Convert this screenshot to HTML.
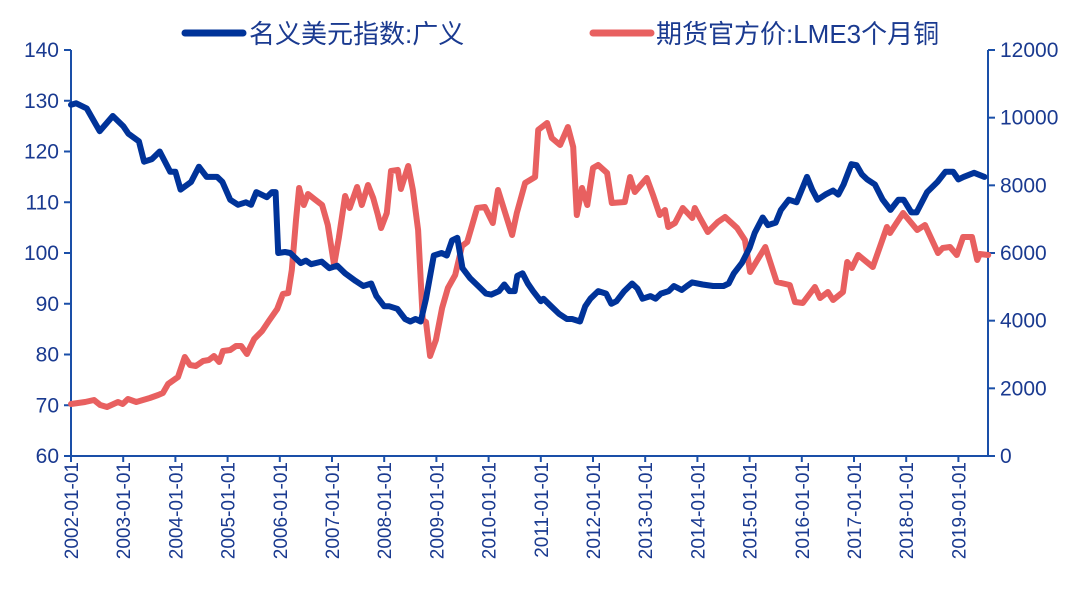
<!DOCTYPE html>
<html><head><meta charset="utf-8"><style>
body{margin:0;background:#fff;}
svg{display:block;font-family:"Liberation Sans","Noto Sans CJK SC",sans-serif;}
</style></head><body>
<svg id="c" width="1086" height="606"></svg>
<script>
const usdDates=[2002.0,2002.1,2002.3,2002.55,2002.8,2003.0,2003.1,2003.3,2003.4,2003.55,2003.7,2003.9,2004.0,2004.1,2004.3,2004.45,2004.6,2004.8,2004.9,2005.05,2005.2,2005.35,2005.45,2005.55,2005.75,2005.85,2005.92,2005.97,2006.1,2006.2,2006.4,2006.5,2006.6,2006.8,2006.95,2007.1,2007.25,2007.45,2007.6,2007.75,2007.85,2008.0,2008.1,2008.25,2008.4,2008.5,2008.6,2008.7,2008.8,2008.95,2009.1,2009.2,2009.3,2009.4,2009.5,2009.65,2009.8,2009.95,2010.05,2010.2,2010.3,2010.4,2010.5,2010.55,2010.65,2010.75,2010.85,2011.0,2011.05,2011.2,2011.35,2011.5,2011.6,2011.75,2011.85,2011.95,2012.1,2012.25,2012.35,2012.45,2012.6,2012.75,2012.85,2012.95,2013.1,2013.2,2013.3,2013.45,2013.55,2013.7,2013.8,2013.9,2014.1,2014.3,2014.5,2014.6,2014.7,2014.85,2015.0,2015.1,2015.25,2015.35,2015.5,2015.6,2015.75,2015.9,2016.0,2016.1,2016.2,2016.3,2016.45,2016.6,2016.7,2016.8,2016.95,2017.05,2017.15,2017.25,2017.4,2017.55,2017.7,2017.85,2017.95,2018.1,2018.2,2018.4,2018.5,2018.6,2018.75,2018.9,2019.0,2019.1,2019.3,2019.5,2019.65];
const usdValues=[129.2,129.5,128.5,124,127,125,123.5,122,118,118.5,120,116,116,112.5,114,117,115,115,114,110.5,109.5,110,109.5,112,111,112,112,100,100.2,100,98,98.5,97.8,98.3,97.0,97.5,96,94.5,93.5,94,91.5,89.5,89.5,89,87,86.5,87,86.5,91,99.5,100,99.5,102.5,103,97,95,93.5,92,91.8,92.5,93.8,92.5,92.5,95.5,96,94,92.5,90.5,91,89.5,88,87,87,86.5,89.5,91,92.5,92,90,90.5,92.5,94,93,91,91.5,91.0,92,92.5,93.5,92.7,93.5,94.2,93.8,93.5,93.5,94,96,98,101,104,107,105.5,106,108.5,110.5,110,112.5,115,112.5,110.5,111.5,112.3,111.5,113.5,117.5,117.3,115.5,114.5,113.5,110.5,108.5,110.5,110.5,108,108,112,113,114,116,116,114.5,115,115.8,115];
const cuDates=[2002.00,2002.27,2002.44,2002.56,2002.69,2002.90,2002.99,2003.09,2003.25,2003.38,2003.51,2003.67,2003.76,2003.86,2004.05,2004.18,2004.28,2004.39,2004.53,2004.64,2004.74,2004.84,2004.91,2005.05,2005.16,2005.26,2005.37,2005.51,2005.66,2005.79,2005.95,2006.06,2006.16,2006.23,2006.31,2006.37,2006.46,2006.54,2006.66,2006.81,2006.92,2007.04,2007.13,2007.25,2007.34,2007.48,2007.57,2007.69,2007.79,2007.88,2007.94,2008.05,2008.13,2008.26,2008.32,2008.46,2008.55,2008.65,2008.74,2008.80,2008.88,2008.99,2009.11,2009.22,2009.36,2009.49,2009.59,2009.68,2009.78,2009.93,2010.08,2010.18,2010.45,2010.54,2010.70,2010.89,2010.95,2011.12,2011.21,2011.37,2011.52,2011.62,2011.69,2011.79,2011.89,2012.00,2012.10,2012.27,2012.36,2012.61,2012.71,2012.80,2013.03,2013.15,2013.28,2013.38,2013.44,2013.57,2013.72,2013.90,2013.95,2014.05,2014.20,2014.39,2014.53,2014.76,2014.91,2015.01,2015.30,2015.52,2015.77,2015.87,2016.02,2016.25,2016.35,2016.50,2016.60,2016.79,2016.87,2016.96,2017.08,2017.36,2017.63,2017.69,2017.79,2017.94,2018.21,2018.36,2018.61,2018.70,2018.84,2018.97,2019.09,2019.26,2019.36,2019.41,2019.57];
const cuValues=[1537,1596,1655,1508,1448,1596,1537,1685,1596,1655,1714,1803,1862,2128,2335,2926,2690,2660,2808,2838,2956,2779,3104,3133,3252,3252,3015,3459,3695,3991,4345,4789,4818,5498,6976,7922,7420,7745,7597,7420,6828,5646,6444,7686,7331,7952,7420,8011,7626,7124,6740,7183,8425,8455,7893,8572,7863,6681,4020,3961,2956,3429,4375,4966,5350,6208,6326,6799,7331,7360,6887,7863,6533,7183,8070,8247,9637,9843,9400,9193,9725,9134,7124,7922,7420,8513,8602,8365,7479,7508,8247,7804,8218,7715,7124,7272,6769,6887,7331,7035,7331,7035,6621,6917,7065,6740,6385,5439,6178,5143,5055,4552,4523,4996,4670,4848,4611,4848,5735,5557,5942,5587,6769,6592,6828,7183,6681,6828,6001,6148,6178,5942,6474,6474,5794,5971,5942];
const leftTicks=[60,70,80,90,100,110,120,130,140];
const rightTicks=[0,2000,4000,6000,8000,10000,12000];
const xTickYears=[2002,2003,2004,2005,2006,2007,2008,2009,2010,2011,2012,2013,2014,2015,2016,2017,2018,2019];

const NS="http://www.w3.org/2000/svg";
const svg=document.getElementById('c');
const X0=71,X1=988,Y0=50,Y1=456;
const xs=y=>X0+(y-2002)*52.2;
const yl=v=>Y1-(v-60)/80*(Y1-Y0);
const yr=v=>Y1-v/12000*(Y1-Y0);
const AX="#1a4fa8", TX="#1a3a90";
function el(t,a,p){const e=document.createElementNS(NS,t);for(const k in a)e.setAttribute(k,a[k]);(p||svg).appendChild(e);return e;}

let a=el('line',{x1:X0,y1:Y0,x2:X0,y2:Y1,stroke:AX,'stroke-width':2});


a=el('line',{x1:X1,y1:Y0,x2:X1,y2:Y1,stroke:AX,'stroke-width':2});


a=el('line',{x1:X0,y1:Y1,x2:X1,y2:Y1,stroke:AX,'stroke-width':2});



leftTicks.forEach(v=>{
  const y=yl(v);
  el('line',{x1:X0-7,y1:y,x2:X0,y2:y,stroke:AX,'stroke-width':2});
  const t=el('text',{x:X0-12,y:y+7,'text-anchor':'end','font-size':21,fill:TX});
  t.textContent=v;
  
  
});
rightTicks.forEach(v=>{
  const y=yr(v);
  el('line',{x1:X1,y1:y,x2:X1+7,y2:y,stroke:AX,'stroke-width':2});
  const t=el('text',{x:X1+12,y:y+7,'text-anchor':'start','font-size':21,fill:TX});
  t.textContent=v;
  
  
});
xTickYears.forEach(yv=>{
  const x=xs(yv);
  el('line',{x1:x,y1:Y1,x2:x,y2:Y1+6,stroke:AX,'stroke-width':2});
  const t=el('text',{x:0,y:0,'text-anchor':'end','font-size':19,fill:TX,transform:`translate(${x+7},${Y1+6}) rotate(-90)`});
  t.textContent=yv+'-01-01';
  
  
});

function path(d,v,sc,col,name){
  const p=el('path',{d:d.map((x,i)=>(i?'L':'M')+xs(x).toFixed(1)+','+sc(v[i]).toFixed(1)).join(''),fill:'none',stroke:col,'stroke-width':6,'stroke-linejoin':'round','stroke-linecap':'round'});
  
  
}
path(cuDates,cuValues,yr,'#e86060','copper-line');
path(usdDates,usdValues,yl,'#003399','usd-index-line');

let g=el('g',{});


el('line',{x1:185,y1:33,x2:243,y2:33,stroke:'#003399','stroke-width':7,'stroke-linecap':'round'},g);
let t=el('text',{x:249,y:43,'font-size':26,fill:TX},g);t.textContent='名义美元指数:广义';
g=el('g',{});


el('line',{x1:593,y1:33,x2:651,y2:33,stroke:'#e86060','stroke-width':7,'stroke-linecap':'round'},g);
t=el('text',{x:656,y:43,'font-size':26,fill:TX},g);t.textContent='期货官方价:LME3个月铜';
</script>
</body></html>
